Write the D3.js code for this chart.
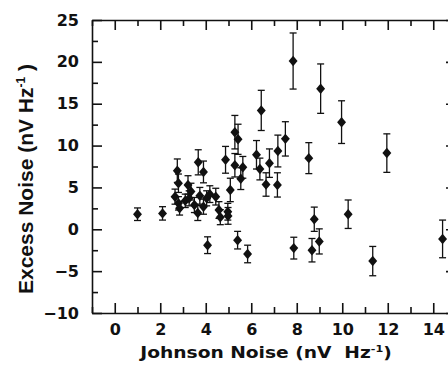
<!DOCTYPE html>
<html>
<head>
<meta charset="utf-8">
<script src="https://cdn.jsdelivr.net/npm/d3@7"></script>
<style>
  body { margin: 0; background: #fff; }
  svg { display: block; }
  .axis text { font-family: "DejaVu Sans", sans-serif; font-weight: bold; font-size: 16px; fill: #111; }
  .axis path, .axis line { stroke: #111; stroke-width: 1.6; }
</style>
</head>
<body>
<svg id="chart"></svg>
<script>
/* Excess noise vs Johnson noise scatter */

// Johnson noise (x), excess noise (y), error bar half-height
const johnson = [1.0, 2.1, 2.75, 2.8, 2.65, 2.8, 2.85, 3.1, 3.22, 3.35, 3.27, 3.5, 3.65, 3.67, 3.74, 3.9, 3.9, 4.04, 4.08, 4.18, 4.44, 4.58, 4.64, 4.87, 4.97, 4.98, 5.08, 5.28, 5.28, 5.4, 5.42, 5.54, 5.63, 5.84, 6.23, 6.38, 6.44, 6.65, 6.8, 7.15, 7.17, 7.5, 7.84, 7.87, 8.53, 8.67, 8.77, 8.99, 9.05, 9.97, 10.26, 11.34, 11.96, 14.41];
const excess = [1.8, 1.9, 7.0, 5.5, 3.9, 3.1, 2.5, 3.4, 5.3, 4.5, 3.7, 2.9, 1.95, 8.0, 4.0, 6.85, 2.7, 3.7, -1.9, 4.2, 3.9, 2.3, 1.45, 8.3, 2.1, 1.6, 4.7, 11.6, 7.65, -1.3, 10.75, 6.05, 7.4, -2.95, 8.9, 7.2, 14.2, 5.35, 7.9, 5.3, 9.35, 10.8, 20.1, -2.25, 8.5, -2.5, 1.2, -1.45, 16.8, 12.8, 1.8, -3.8, 9.1, -1.15];
const errors = [0.75, 0.8, 1.4, 1.1, 0.9, 0.8, 0.8, 0.8, 1.1, 1.0, 0.9, 0.9, 0.9, 1.5, 1.0, 1.3, 0.9, 0.9, 1.0, 1.0, 1.0, 1.0, 0.9, 1.6, 1.0, 1.0, 1.4, 2.0, 1.4, 1.05, 1.8, 1.3, 1.3, 1.05, 1.7, 1.3, 2.4, 1.4, 1.7, 1.45, 1.9, 2.05, 3.35, 1.3, 1.85, 1.4, 1.45, 1.5, 2.95, 2.55, 1.7, 1.75, 2.3, 2.25];

const xTicks = [0, 2, 4, 6, 8, 10, 12, 14];
const xMinor = [-1, 1, 3, 5, 7, 9, 11, 13, 15];
const yTicks = [-10, -5, 0, 5, 10, 15, 20, 25];
const yMinor = [-7.5, -2.5, 2.5, 7.5, 12.5, 17.5, 22.5];

const width = 448, height = 368;
const mLeft = 92, mRight = 456, mTop = 20, mBottom = 313;

const svg = d3.select("#chart").attr("width", width).attr("height", height);

const x = d3.scaleLinear().domain([-1, 15]).range([mLeft, mRight]);
const y = d3.scaleLinear().domain([-10, 25]).range([mBottom, mTop]);

const data = johnson.map((j, i) => ({ x: j, y: excess[i], e: errors[i] }));

// frame + major ticks
svg.append("g").attr("class", "axis")
  .attr("transform", `translate(0,${mBottom})`)
  .call(d3.axisBottom(x).tickValues(xTicks).tickSizeInner(-10).tickSizeOuter(0).tickPadding(11));
svg.append("g").attr("class", "axis")
  .attr("transform", `translate(0,${mTop})`)
  .call(d3.axisTop(x).tickValues(xTicks).tickSizeInner(-10).tickSizeOuter(0).tickFormat(""));
svg.append("g").attr("class", "axis")
  .attr("transform", `translate(${mLeft},0)`)
  .call(d3.axisLeft(y).tickValues(yTicks).tickSizeInner(-10).tickSizeOuter(0).tickPadding(13));
svg.append("g").attr("class", "axis")
  .attr("transform", `translate(${mRight},0)`)
  .call(d3.axisRight(y).tickValues(yTicks).tickSizeInner(-10).tickSizeOuter(0).tickFormat(""));

// minor ticks
svg.append("g").attr("class", "axis")
  .attr("transform", `translate(0,${mBottom})`)
  .call(d3.axisBottom(x).tickValues(xMinor).tickSize(-6).tickFormat(""))
  .call(g => g.select(".domain").remove());
svg.append("g").attr("class", "axis")
  .attr("transform", `translate(0,${mTop})`)
  .call(d3.axisTop(x).tickValues(xMinor).tickSize(-6).tickFormat(""))
  .call(g => g.select(".domain").remove());
svg.append("g").attr("class", "axis")
  .attr("transform", `translate(${mLeft},0)`)
  .call(d3.axisLeft(y).tickValues(yMinor).tickSize(-6).tickFormat(""))
  .call(g => g.select(".domain").remove());
svg.append("g").attr("class", "axis")
  .attr("transform", `translate(${mRight},0)`)
  .call(d3.axisRight(y).tickValues(yMinor).tickSize(-6).tickFormat(""))
  .call(g => g.select(".domain").remove());

// error bars
const bars = svg.append("g").attr("stroke", "#111").attr("stroke-width", 1.3);
const cap = 3.5;
bars.selectAll("line.v").data(data).join("line").attr("class", "v")
  .attr("x1", d => x(d.x)).attr("x2", d => x(d.x))
  .attr("y1", d => y(d.y + d.e)).attr("y2", d => y(d.y - d.e));
bars.selectAll("line.t").data(data).join("line").attr("class", "t")
  .attr("x1", d => x(d.x) - cap).attr("x2", d => x(d.x) + cap)
  .attr("y1", d => y(d.y + d.e)).attr("y2", d => y(d.y + d.e));
bars.selectAll("line.b").data(data).join("line").attr("class", "b")
  .attr("x1", d => x(d.x) - cap).attr("x2", d => x(d.x) + cap)
  .attr("y1", d => y(d.y - d.e)).attr("y2", d => y(d.y - d.e));

// diamond markers
const diamond = {
  draw(ctx, size) {
    const h = Math.sqrt(size) / 2, w = h * 0.85;
    ctx.moveTo(0, -h); ctx.lineTo(w, 0); ctx.lineTo(0, h); ctx.lineTo(-w, 0); ctx.closePath();
  }
};
svg.append("g").selectAll("path").data(data).join("path")
  .attr("transform", d => `translate(${x(d.x)},${y(d.y)})`)
  .attr("d", d3.symbol(diamond, 110))
  .attr("fill", "#111");

// axis titles
const xt = svg.append("text")
  .attr("text-anchor", "middle")
  .attr("font-family", "'DejaVu Sans', sans-serif").attr("font-weight", "bold").attr("font-size", 15).attr("fill", "#111")
  .attr("xml:space", "preserve");
xt.append("tspan").text("Johnson Noise (nV  Hz");
xt.append("tspan").attr("font-size", 9).attr("dy", -6).text("-1");
xt.append("tspan").attr("dy", 6).text(")");
// stretch to the wide lettering of the original
const xw = xt.node().getBBox().width;
xt.attr("transform", `translate(266,358) scale(${253 / xw},1)`);

const yt = svg.append("text")
  .attr("transform", "translate(33,179) rotate(-90)")
  .attr("text-anchor", "middle")
  .attr("font-family", "'Liberation Sans', Arial, sans-serif").attr("font-weight", "bold").attr("font-size", 21).attr("fill", "#111")
  .attr("xml:space", "preserve");
yt.append("tspan").text("Excess Noise (nV Hz");
yt.append("tspan").attr("font-size", 12).attr("dy", -8).text("-1");
yt.append("tspan").attr("dy", 8).text(" )");
</script>
</body>
</html>
